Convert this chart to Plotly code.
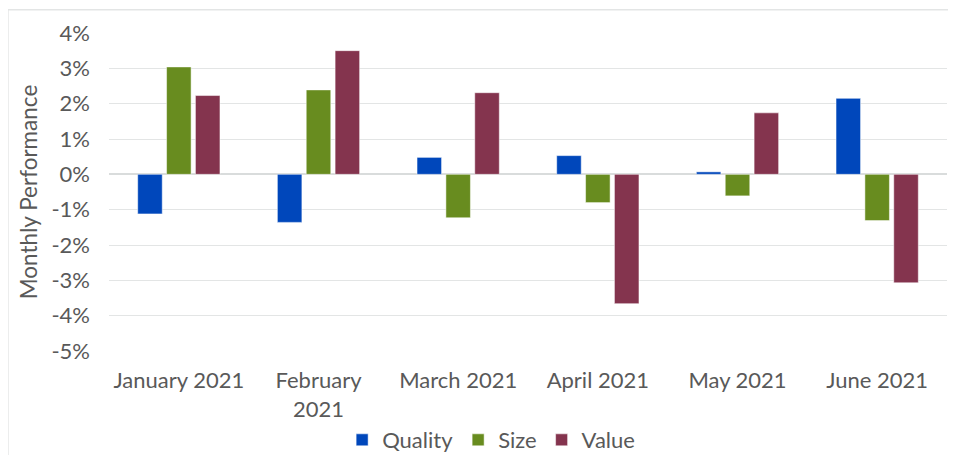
import plotly.graph_objects as go

months = ["January 2021", "February<br>2021", "March 2021", "April 2021", "May 2021", "June 2021"]
quality = [-1.12, -1.36, 0.48, 0.53, 0.07, 2.15]
size = [3.04, 2.39, -1.23, -0.80, -0.61, -1.31]
value = [2.23, 3.50, 2.31, -3.66, 1.74, -3.07]
y_ticks = [4, 3, 2, 1, 0, -1, -2, -3, -4, -5]
y_tick_labels = [f"{v}%" for v in y_ticks]

FONT = "Lato"
TXT = "#595959"

fig = go.Figure()
for name, vals, col in [("Quality", quality, "#0047BB"),
                        ("Size", size, "#688C1F"),
                        ("Value", value, "#84344E")]:
    fig.add_trace(go.Bar(x=months, y=vals, name=name, marker_color=col,
                         marker_line=dict(color="rgba(255,255,255,0.5)", width=1)))

# page body has an 8px default margin, so the figure is 8px smaller on each axis
fig.update_layout(
    width=948, height=447,
    margin=dict(l=101, r=9, t=25, b=104, autoexpand=False),
    plot_bgcolor="white", paper_bgcolor="white",
    barmode="group", bargap=0.38, bargroupgap=0.15,
    font=dict(family=FONT, size=22, color=TXT),
    showlegend=True,
    legend=dict(orientation="h", x=0.456, xanchor="center", y=-0.28, yanchor="middle",
                font=dict(family=FONT, size=22, color=TXT), itemwidth=30,
                traceorder="normal"),
    shapes=[dict(type="rect", xref="paper", yref="paper",
                 x0=-0.1206, x1=1.03, y0=-0.45, y1=1.0733,
                 line=dict(color="#E3E5E5", width=1.5), layer="below")],
)
fig.update_xaxes(showgrid=False, showline=False, zeroline=False, automargin=False,
                 tickfont=dict(family=FONT, size=22, color=TXT),
                 ticklabelstandoff=14)
fig.update_yaxes(range=[-5, 4], tickvals=y_ticks, ticktext=y_tick_labels,
                 showgrid=True, gridcolor="#E3E5E5", gridwidth=1.3,
                 zeroline=True, zerolinecolor="#D9DCDC", zerolinewidth=1.5,
                 showline=False, automargin=False,
                 tickfont=dict(family=FONT, size=22, color=TXT),
                 ticklabelstandoff=18,
                 title=dict(text="Monthly Performance", standoff=7,
                            font=dict(family=FONT, size=22.5, color=TXT)))

fig.write_html("out.html")
